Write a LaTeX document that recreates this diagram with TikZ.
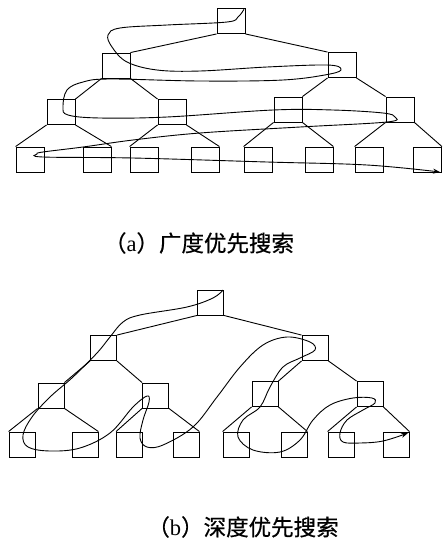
\documentclass[tikz,border=0pt]{standalone}
\usepackage{fontspec}
\newfontfamily\cjk[FakeBold=0.6]{Noto Sans CJK SC}
\setmainfont{Liberation Serif}
\usetikzlibrary{arrows.meta}
\begin{document}
\begin{tikzpicture}[x=1pt,y=-1pt,
  boxa/.style={draw,line width=0.9pt,minimum width=28pt,minimum height=25pt,inner sep=0pt},
  boxb/.style={draw,line width=0.9pt,minimum width=26pt,minimum height=25pt,inner sep=0pt},
  edge/.style={line width=0.9pt},
  tour/.style={line width=0.9pt},
  captext/.style={font=\fontsize{22.5}{26}\selectfont, inner sep=0pt}]
\useasboundingbox (0,0) rectangle (446,550);
% ---------- tree (a)
\node[boxa] (ar) at (231,21) {};
\node[boxa] (a1) at (116,65.5) {};
\node[boxa] (a2) at (342,65) {};
\node[boxa] (a3) at (61,112) {};
\node[boxa] (a4) at (172,112) {};
\node[boxa] (a5) at (288,109.5) {};
\node[boxa] (a6) at (400,109.5) {};
\foreach \i/\x in {1/30,2/97,3/144,4/205,5/258,6/319,7/369,8/427.5}
  \node[boxa] (al\i) at (\x,159.5) {};
\draw[edge] (ar.south west) -- (a1.north east);
\draw[edge] (ar.south east) -- (a2.north west);
\draw[edge] (a1.south west) -- (a3.north east);
\draw[edge] (a1.south east) -- (a4.north west);
\draw[edge] (a2.south west) -- (a5.north east);
\draw[edge] (a2.south east) -- (a6.north west);
\draw[edge] (a3.south west) -- (al1.north west);
\draw[edge] (a3.south east) -- (al2.north east);
\draw[edge] (a4.south west) -- (al3.north west);
\draw[edge] (a4.south east) -- (al4.north east);
\draw[edge] (a5.south west) -- (al5.north west);
\draw[edge] (a5.south east) -- (al6.north east);
\draw[edge] (a6.south west) -- (al7.north west);
\draw[edge] (a6.south east) -- (al8.north east);
\draw[tour,-{Stealth[length=7pt,width=5pt]}] plot[smooth,tension=0.6] coordinates {
 (244,9.3) (238,17) (227,22) (167,25) (120,28) (108,35) (112,47) (127,62)
 (157,70) (200,71) (267,67) (327,65) (341,69) (330,74) (283,80) (200,81)
 (110,79) (83,82) (67,90) (63,107) (68,115) (100,118) (167,117) (273,110)
 (333,110) (383,113) (395,117) (387,122) (300,127) (200,133) (133,140)
 (83,147) (43,152) (37,154) (43,157) (133,158) (267,162) (367,165) (440,172)};
\node[captext] (capa) at (199,243) {{\cjk （}a{\cjk ）广度优先搜索}};
% ---------- tree (b)
\node[boxb] (br) at (210.5,302.5) {};
\node[boxb] (b1) at (103.5,348) {};
\node[boxb] (b2) at (315,348) {};
\node[boxb] (b3) at (51,395.5) {};
\node[boxb] (b4) at (155.5,395.5) {};
\node[boxb] (b5) at (265,394) {};
\node[boxb] (b6) at (370,394) {};
\foreach \i/\x in {1/22,2/85,3/129.5,4/186,5/236,6/294,7/341,8/396}
  \node[boxb] (bl\i) at (\x,444.5) {};
\draw[edge] (br.south west) -- (b1.north east);
\draw[edge] (br.south east) -- (b2.north west);
\draw[edge] (b1.south west) -- (b3.north east);
\draw[edge] (b1.south east) -- (b4.north west);
\draw[edge] (b2.south west) -- (b5.north east);
\draw[edge] (b2.south east) -- (b6.north west);
\draw[edge] (b3.south west) -- (bl1.north west);
\draw[edge] (b3.south east) -- (bl2.north east);
\draw[edge] (b4.south west) -- (bl3.north west);
\draw[edge] (b4.south east) -- (bl4.north east);
\draw[edge] (b5.south west) -- (bl5.north west);
\draw[edge] (b5.south east) -- (bl6.north east);
\draw[edge] (b6.south west) -- (bl7.north west);
\draw[edge] (b6.south east) -- (bl8.north east);
\draw[tour,-{Stealth[length=7pt,width=5pt]}] plot[smooth,tension=0.6] coordinates {
 (223,290) (213,298) (187,307) (140,315) (123,322) (110,337) (97,353) (73,377)
 (50,397) (32,417) (23,435) (28,447) (50,451) (80,448) (110,433) (133,407)
 (147,396) (149,402) (143,420) (140,438) (147,447) (163,445) (193,427)
 (217,397) (240,367) (263,345) (287,337) (310,342) (315,350) (300,358)
 (283,367) (270,387) (260,407) (243,420) (238,437) (253,450) (280,452)
 (300,440) (313,420) (330,405) (353,398) (372,398) (375,403) (363,410)
 (347,420) (340,433) (343,442) (360,443) (383,441) (408,433)};
\node[captext] (capb) at (243,527) {{\cjk （}b{\cjk ）深度优先搜索}};
\end{tikzpicture}
\end{document}
